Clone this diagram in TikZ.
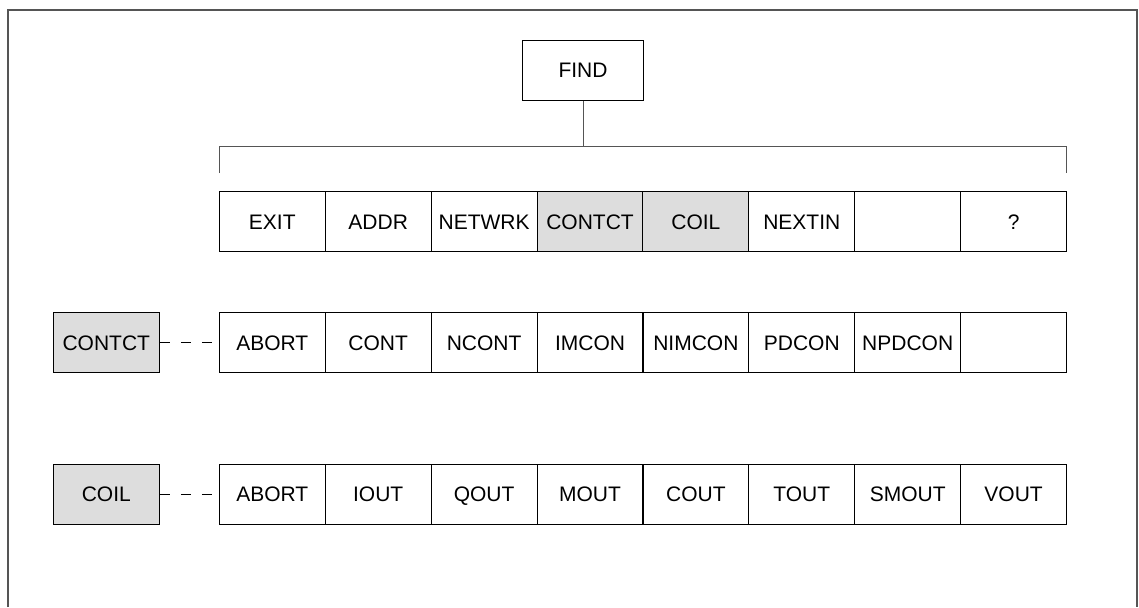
\documentclass[tikz,border=0pt]{standalone}
\usepackage{fontspec}
\setmainfont{Liberation Sans}
\definecolor{keygray}{HTML}{DDDDDD}
\definecolor{framegray}{HTML}{555555}
\tikzset{
    key/.style={draw, rectangle, inner sep=0pt, minimum width=53pt, minimum height=30pt,
        text height=7.5pt, text depth=0pt, font=\fontsize{10.5}{12}\selectfont},
    selkey/.style={key, fill=keygray},
    link/.style={dash pattern=on 5pt off 5.5pt}
}
\begin{document}
\begin{tikzpicture}[x=0.5pt, y=-0.5pt, line width=0.5pt]
            \useasboundingbox (0,0) rectangle (1139,607);
            \draw[framegray, line width=1pt] (8,607) -- (8,10) -- (1137,10) -- (1137,607);

            \node[key, minimum width=60.7pt] (find) at (583,70) {FIND};

            % main menu
            \node[key] (m1) at (272.3,221.7) {EXIT};
            \node[key] (m2) at (378.2,221.7) {ADDR};
            \node[key] (m3) at (484.1,221.7) {NETWRK};
            \node[selkey] (m4) at (590,221.7) {CONTCT};
            \node[selkey] (m5) at (695.9,221.7) {COIL};
            \node[key] (m6) at (801.8,221.7) {NEXTIN};
            \node[key] (m7) at (907.7,221.7) {};
            \node[key] (m8) at (1013.6,221.7) {?};

            \coordinate (bl) at (219.3,173);
            \coordinate (bm) at (583,146);
            \coordinate (br) at (1066.6,173);
            \draw[framegray] (find) -- (bm);
            \draw[framegray] (bl) |- (bm) -| (br);

            % contact submenu
            \node[selkey] (scontct) at (106.3,342.7) {CONTCT};
            \node[key] (c1) at (272.3,342.7) {ABORT};
            \node[key] (c2) at (378.2,342.7) {CONT};
            \node[key] (c3) at (484.1,342.7) {NCONT};
            \node[key] (c4) at (590,342.7) {IMCON};
            \node[key] (c5) at (695.9,342.7) {NIMCON};
            \node[key] (c6) at (801.8,342.7) {PDCON};
            \node[key] (c7) at (907.7,342.7) {NPDCON};
            \node[key] (c8) at (1013.6,342.7) {};
            \draw[link] (scontct) -- (c1);

            % coil submenu
            \node[selkey] (scoil) at (106.3,494) {COIL};
            \node[key] (o1) at (272.3,494) {ABORT};
            \node[key] (o2) at (378.2,494) {IOUT};
            \node[key] (o3) at (484.1,494) {QOUT};
            \node[key] (o4) at (590,494) {MOUT};
            \node[key] (o5) at (695.9,494) {COUT};
            \node[key] (o6) at (801.8,494) {TOUT};
            \node[key] (o7) at (907.7,494) {SMOUT};
            \node[key] (o8) at (1013.6,494) {VOUT};
            \draw[link] (scoil) -- (o1);
        \end{tikzpicture}
\end{document}
